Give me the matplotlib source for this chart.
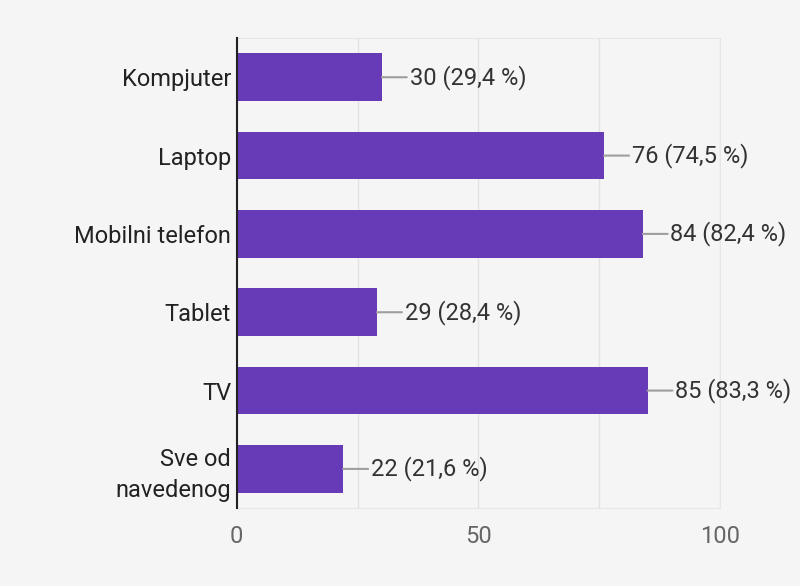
import matplotlib.pyplot as plt

categories = ["Kompjuter", "Laptop", "Mobilni telefon", "Tablet", "TV", "Sve od\nnavedenog"]
counts = [30, 76, 84, 29, 85, 22]
percents = ["29,4", "74,5", "82,4", "28,4", "83,3", "21,6"]

bg = "#f5f5f5"
purple = "#673ab7"

plt.rcParams["font.family"] = ["Roboto", "DejaVu Sans"]

fig = plt.figure(figsize=(8, 5.86), dpi=100, facecolor=bg)
ax = fig.add_axes([0.296, 0.133, 0.604, 0.802], facecolor=bg)

ypos = list(range(len(categories)))
ax.barh(ypos, counts, height=0.61, color=purple, zorder=3)

# value labels with a short grey connector
for y, c, p in zip(ypos, counts, percents):
    ax.annotate(f"{c} ({p} %)", xy=(c, y), xytext=(20, 0), textcoords="offset points",
                va="center", ha="left", fontsize=17, color="#333333",
                arrowprops=dict(arrowstyle="-", color="#9e9e9e", lw=1.5,
                                shrinkA=0, shrinkB=0))

ax.set_xlim(0, 100)
ax.set_ylim(len(categories) - 0.5, -0.5)
ax.set_yticks(ypos)
ax.set_yticklabels(categories, fontsize=17, color="#222222", linespacing=1.4)
ax.set_xticks([0, 50, 100])
ax.set_xticks([25, 75], minor=True)
ax.tick_params(axis="x", which="both", length=0, pad=12, labelsize=17, labelcolor="#666666")
ax.tick_params(axis="y", length=0, pad=4)
ax.grid(axis="x", which="both", color="#e2e2e2", lw=1, zorder=0)

for side in ["top", "right", "bottom"]:
    ax.spines[side].set_color("#e6e6e6")
ax.spines["left"].set_color("#222222")
ax.spines["left"].set_linewidth(1.5)
ax.spines["left"].set_zorder(4)

fig.savefig("out.png", dpi=100, facecolor=bg)
